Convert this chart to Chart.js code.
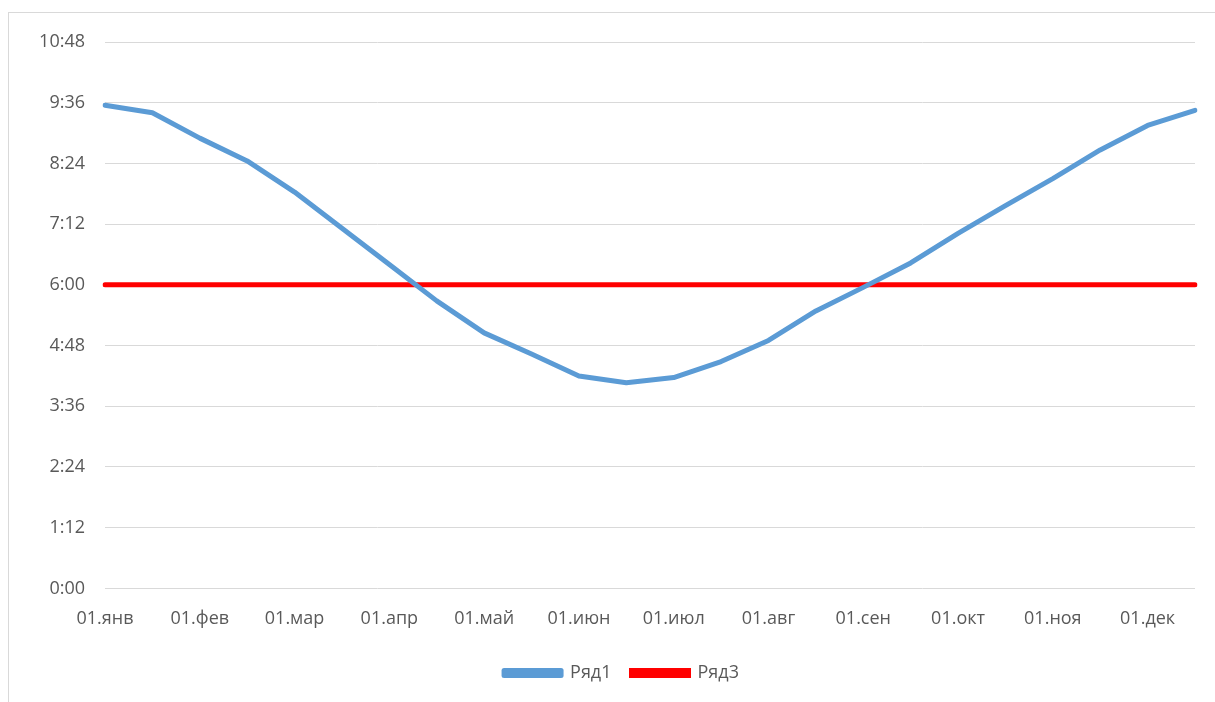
<!DOCTYPE html>
<html>
<head>
<meta charset="utf-8">
<script src="https://cdn.jsdelivr.net/npm/chart.js@4/dist/chart.umd.min.js"></script>
<style>
html,body{margin:0;padding:0;background:#fff;width:1215px;height:702px;overflow:hidden;}
#frame{position:absolute;left:8px;top:12px;width:1220px;height:700px;border:1px solid #d9d9d9;box-sizing:border-box;}
#wrap{position:absolute;left:0;top:0;width:1215px;height:702px;}
canvas{display:block;}
</style>
</head>
<body>
<div id="frame"></div>
<div id="wrap"><canvas id="c" width="1215" height="702"></canvas></div>
<script>
// Categories: 1st and 15th of each month
const months = ["янв","фев","мар","апр","май","июн","июл","авг","сен","окт","ноя","дек"];
const categories = [];
months.forEach(m => { categories.push("01." + m); categories.push("15." + m); });

// Series values in minutes
const ryad1 = [573,564,534,507,470,427,384,341,303,278,252,244,250,269,294,329,357,386,421,454,486,520,549,567];
const ryad3 = [360,360,360,360,360,360,360,360,360,360,360,360,360,360,360,360,360,360,360,360,360,360,360,360];

// Y-axis range (minutes)
const yMin = 0, yMax = 648, yStep = 72;

function fmt(v){
  const h = Math.floor(v/60), m = Math.round(v - h*60);
  return h + ":" + (m < 10 ? "0" + m : m);
}

const legendShift = {
  id: 'legendShift',
  afterLayout(chart){
    if (chart.legend){ chart.legend.left += 19; chart.legend.right += 19; }
  }
};

const FONT = "'Open Sans', sans-serif";
new Chart(document.getElementById('c'), {
  type: 'line',
  data: {
    labels: categories,
    datasets: [
      {label:'Ряд1', data: ryad1, borderColor:'#5b9bd5', backgroundColor:'#5b9bd5', borderWidth:5, pointRadius:0, tension:0, borderCapStyle:'round', borderJoinStyle:'round'},
      {label:'Ряд3', data: ryad3, borderColor:'#ff0000', backgroundColor:'#ff0000', borderWidth:5, pointRadius:0, tension:0, borderCapStyle:'round'}
    ]
  },
  plugins: [legendShift],
  options: {
    responsive: false,
    animation: false,
    devicePixelRatio: 1,
    layout: {padding: {left: 8, right: 18, top: 42, bottom: 10}},
    plugins: {
      legend: {
        position: 'bottom',
        labels: {boxWidth: 57, boxHeight: 5, color:'#595959', font:{family:FONT, size:18}, padding: 20}
      },
      tooltip: {enabled:false}
    },
    scales: {
      x: {
        offset: false,
        grid: {display:false, drawTicks:false},
        border: {display:false},
        afterFit: function(s){ s.height -= 6; },
        ticks: {
          autoSkip:false, maxRotation:0, minRotation:0, padding: 20,
          color:'#595959', font:{family:FONT, size:18},
          callback: function(v, i){ return i % 2 === 0 ? categories[i] : ''; }
        }
      },
      y: {
        min: yMin, max: yMax,
        grid: {color:'#d9d9d9', lineWidth:1, drawTicks:false},
        border: {display:false},
        afterFit: function(s){ s.width = 97; },
        ticks: {
          stepSize: yStep, padding: 20,
          color:'#595959', font:{family:FONT, size:18},
          callback: function(v){ return fmt(v); }
        }
      }
    }
  }
});
</script>
</body>
</html>
